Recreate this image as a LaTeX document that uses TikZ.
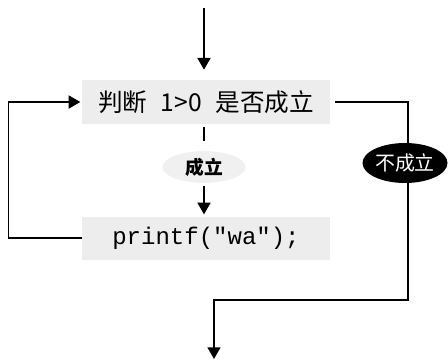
\documentclass[tikz,border=0pt]{standalone}
\usepackage{fontspec}
\newfontfamily\cjk{Noto Sans CJK SC}
\newfontfamily\codefont{Liberation Mono}
\usetikzlibrary{arrows.meta,shapes.geometric}

\begin{document}
\begin{tikzpicture}[x=0.03cm,y=-0.03cm,>={Triangle[length=10pt,width=11pt]},line width=1.6pt]
\useasboundingbox (0,0) rectangle (448,361);
\node[fill=black!7,minimum width=7.41cm,minimum height=1.32cm] (judge) at (206,102) {\cjk\fontsize{21}{24}\selectfont 判断\hspace{0.55em}1>0\hspace{0.55em}是否成立};
\node[fill=black!7,minimum width=7.41cm,minimum height=1.29cm] (code) at (206,238) {\codefont\fontsize{20.5}{23}\selectfont printf("wa");};
\node[ellipse,fill=black!6,minimum width=2.5cm,minimum height=0.95cm,inner sep=0pt] (yes) at (204,167) {\cjk\bfseries\fontsize{16}{18}\selectfont 成立};
\coordinate (start) at (204,8);
\coordinate (out) at (214,359);
\draw[->,shorten >=8pt] (start) -- (start |- judge.north);
\draw[shorten <=2pt,shorten >=8pt] (judge.south -| yes) -- (yes.north);
\draw[->,shorten <=2pt,shorten >=1pt] (yes.south) -- (code.north -| yes);
\draw[->,shorten >=1pt] (code.west) -- ++(-73,0) |- (judge.west);
\draw[->,shorten <=4pt] (judge.east) -| (408,300) -| (out);
\node[ellipse,fill=black,text=white,minimum width=2.55cm,minimum height=1.2cm,inner sep=0pt] (no) at (405,163) {\cjk\fontsize{17}{20}\selectfont 不成立};
\end{tikzpicture}
\end{document}
